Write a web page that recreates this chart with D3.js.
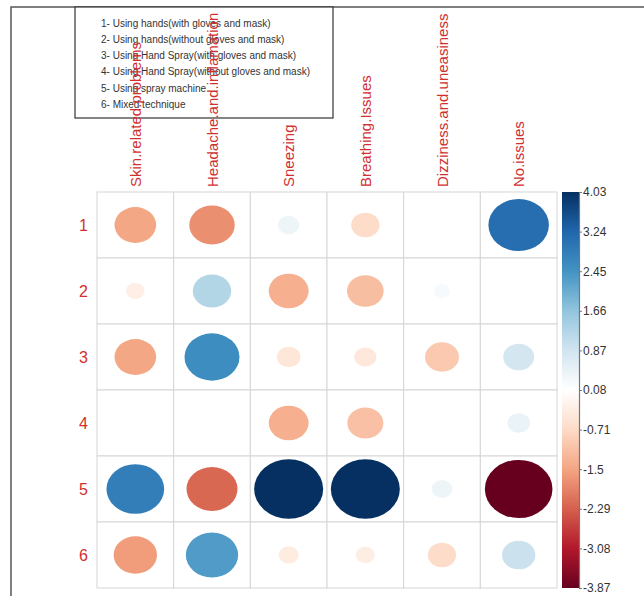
<!DOCTYPE html>
<html>
<head>
<meta charset="utf-8">
<script src="https://cdn.jsdelivr.net/npm/d3@7"></script>
<style>
  html, body { margin: 0; padding: 0; background: #fff; }
  svg { display: block; font-family: "Liberation Sans", Arial, sans-serif; }
</style>
</head>
<body>
<svg id="chart" width="644" height="596"></svg>
<script>
// Symptoms reported per spraying technique (scaled association values)
const techniques = ["1", "2", "3", "4", "5", "6"];
const symptoms = ["Skin.related.problems", "Headache.and.inflamation", "Sneezing",
                  "Breathing.Issues", "Dizziness.and.uneasiness", "No.issues"];

const row1 = [-1.47, -1.75,  0.39, -0.68,  0.00,  3.10];
const row2 = [-0.29,  1.25, -1.35, -1.14,  0.22,  0.00];
const row3 = [-1.47,  2.56, -0.47, -0.42, -0.98,  0.81];
const row4 = [ 0.00,  0.00, -1.35, -1.10,  0.00,  0.44];
const row5 = [ 2.82, -2.20,  4.03,  4.03,  0.37, -3.87];
const row6 = [-1.59,  2.32, -0.34, -0.31, -0.68,  0.94];
const rows = [row1, row2, row3, row4, row5, row6];

const legendLines = [
  "1- Using hands(with gloves and mask)",
  "2- Using hands(without gloves and mask)",
  "3- Using Hand Spray(with gloves and mask)",
  "4- Using Hand Spray(without gloves and mask)",
  "5- Using spray machine",
  "6- Mixed technique"
];

const colorbarTicks = [4.03, 3.24, 2.45, 1.66, 0.87, 0.08, -0.71, -1.5, -2.29, -3.08, -3.87];

// Diverging palette, low (red) to high (blue)
const palette = ["#67001F", "#B2182B", "#D6604D", "#F4A582", "#FDDBC7", "#FFFFFF",
                 "#D1E5F0", "#92C5DE", "#4393C3", "#2166AC", "#053061"];

const vMin = -3.87, vMax = 4.03;
const maxAbs = Math.max(Math.abs(vMin), Math.abs(vMax));

const svg = d3.select("#chart");

const labelRed = "#d12f2f";

// Outer frame
svg.append("rect")
  .attr("x", 11).attr("y", 7)
  .attr("width", 700).attr("height", 700)
  .attr("fill", "none").attr("stroke", "#555").attr("stroke-width", 1.5);

// Cell layout
const x = d3.scaleBand().domain(symptoms).range([97, 557]);
const y = d3.scaleBand().domain(techniques).range([192, 588]);

const color = d3.scaleLinear()
  .domain(d3.range(palette.length).map(i => vMin + (vMax - vMin) * i / (palette.length - 1)))
  .range(palette)
  .interpolate(d3.interpolateRgb);

const sizeScale = d3.scaleSqrt().domain([0, maxAbs]).range([0, 0.45]);

// Legend box (drawn before labels, which overlap it)
const legend = svg.append("g");
legend.append("rect")
  .attr("x", 75).attr("y", 7).attr("width", 258).attr("height", 111)
  .attr("fill", "#fff").attr("stroke", "#333").attr("stroke-width", 1.2);
legend.selectAll("text").data(legendLines).join("text")
  .attr("x", 101)
  .attr("y", (d, i) => 26.5 + i * 16.3)
  .attr("font-size", 10)
  .attr("fill", "#333")
  .text(d => d);

// Grid
const grid = svg.append("g");
const cells = [];
rows.forEach((r, i) => r.forEach((v, j) => cells.push({ row: techniques[i], col: symptoms[j], v })));

grid.selectAll("rect").data(cells).join("rect")
  .attr("x", d => x(d.col))
  .attr("y", d => y(d.row))
  .attr("width", x.bandwidth())
  .attr("height", y.bandwidth())
  .attr("fill", "#fff")
  .attr("stroke", "#d6d6d6")
  .attr("stroke-width", 1);

// Ellipses sized by magnitude, coloured by value
grid.selectAll("ellipse").data(cells.filter(d => d.v !== 0)).join("ellipse")
  .attr("cx", d => x(d.col) + x.bandwidth() / 2)
  .attr("cy", d => y(d.row) + y.bandwidth() / 2)
  .attr("rx", d => sizeScale(Math.abs(d.v)) * x.bandwidth())
  .attr("ry", d => sizeScale(Math.abs(d.v)) * y.bandwidth())
  .attr("fill", d => color(d.v));

// Row labels
svg.append("g").selectAll("text").data(techniques).join("text")
  .attr("x", 88)
  .attr("y", d => y(d) + y.bandwidth() / 2 + 6)
  .attr("text-anchor", "end")
  .attr("font-size", 16)
  .attr("fill", labelRed)
  .text(d => d);

// Column labels, rotated
svg.append("g").selectAll("text").data(symptoms).join("text")
  .attr("transform", d => `translate(${x(d) + x.bandwidth() / 2 + 5.5},187) rotate(-90)`)
  .attr("text-anchor", "start")
  .attr("font-size", 15)
  .attr("fill", labelRed)
  .text(d => d);

// Colour bar
const barX = 562, barW = 17, barTop = 192, barBottom = 588;
const defs = svg.append("defs");
const grad = defs.append("linearGradient")
  .attr("id", "cbar").attr("x1", 0).attr("y1", 1).attr("x2", 0).attr("y2", 0);
grad.selectAll("stop").data(palette).join("stop")
  .attr("offset", (d, i) => i / (palette.length - 1))
  .attr("stop-color", d => d);

svg.append("rect")
  .attr("x", barX).attr("y", barTop)
  .attr("width", barW).attr("height", barBottom - barTop)
  .attr("fill", "url(#cbar)");

const barScale = d3.scaleLinear().domain([vMin, vMax]).range([barBottom, barTop]);
const barAxis = d3.axisRight(barScale)
  .tickValues(colorbarTicks)
  .tickSize(3)
  .tickPadding(1)
  .tickFormat(d => String(d));

const axisG = svg.append("g")
  .attr("transform", `translate(${barX + barW},0)`)
  .call(barAxis);
axisG.select(".domain").attr("stroke", "#777").attr("stroke-width", 1.2);
axisG.selectAll(".tick line").attr("stroke", "#777");
axisG.selectAll(".tick text")
  .attr("font-size", 12)
  .attr("fill", "#333")
  .attr("font-family", "Liberation Sans, Arial, sans-serif");
</script>
</body>
</html>
